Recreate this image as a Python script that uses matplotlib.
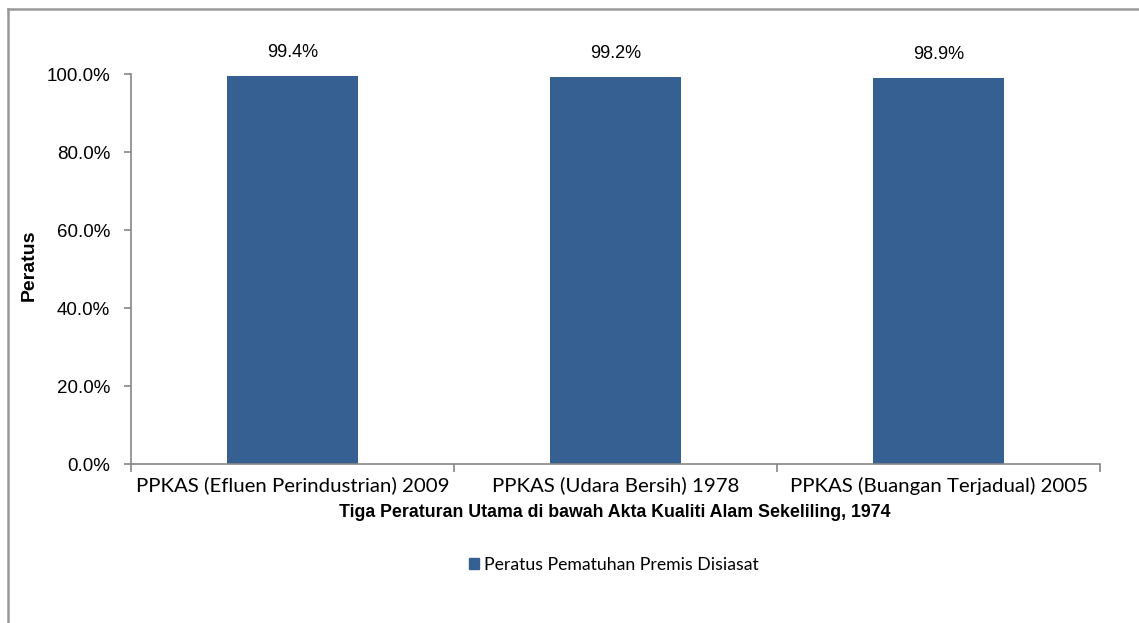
import matplotlib.pyplot as plt
from matplotlib.lines import Line2D
from matplotlib.patches import Patch

kategori = ["PPKAS (Efluen Perindustrian) 2009",
            "PPKAS (Udara Bersih) 1978",
            "PPKAS (Buangan Terjadual) 2005"]
peratus = [99.4, 99.2, 98.9]
label_nilai = ["99.4%", "99.2%", "98.9%"]
yticks = [0, 20, 40, 60, 80, 100]

biru = "#376092"
kelabu = "#868686"

fig = plt.figure(figsize=(11.39, 6.23), dpi=100)
ax = fig.add_axes([0.115, 0.2552, 0.8508, 0.626])

x = range(len(kategori))
bars = ax.bar(x, peratus, width=0.405, color=biru, zorder=2)

for b, t in zip(bars, label_nilai):
    ax.text(b.get_x() + b.get_width() / 2, b.get_height() + 4.0, t,
            ha="center", va="bottom", fontsize=13, family="Liberation Sans")

ax.set_xlim(-0.5, 2.5)
ax.set_ylim(0, 100)
ax.set_yticks(yticks)
ax.set_yticklabels([f"{v:.1f}%" for v in yticks], family="Liberation Sans", fontsize=13.5)
ax.set_xticks([0, 1, 2])
ax.set_xticklabels(kategori, family="Lato", fontsize=14.7)
ax.set_xticks([-0.5, 0.5, 1.5, 2.5], minor=True)
ax.tick_params(axis="x", which="major", length=0, pad=9)
ax.tick_params(axis="x", which="minor", length=6, color=kelabu, width=1.2)
ax.tick_params(axis="y", length=5, color=kelabu, width=1.2, pad=10)

for s in ["top", "right"]:
    ax.spines[s].set_visible(False)
for s in ["left", "bottom"]:
    ax.spines[s].set_color(kelabu)
    ax.spines[s].set_linewidth(1.2)

fig.text(0.0255, 0.575, "Peratus", rotation=90, ha="center", va="center",
         fontsize=14, fontweight="bold", family="Liberation Sans")
fig.text(0.5395, 0.178, "Tiga Peraturan Utama di bawah Akta Kualiti Alam Sekeliling, 1974",
         ha="center", va="center", fontsize=12.8, fontweight="bold",
         family="Liberation Sans")

fig.legend(handles=[Patch(color=biru, label="Peratus Pematuhan Premis Disiasat")],
           loc="center", bbox_to_anchor=(0.539, 0.093), frameon=False,
           prop={"family": "Lato", "size": 12.7}, handlelength=0.6, handleheight=0.6,
           handletextpad=0.3)

# bingkai luar
fig.add_artist(Line2D([0.0066, 1.0], [0.9856, 0.9856], color="#999999", lw=1.8))
fig.add_artist(Line2D([0.0066, 0.0066], [0.0, 0.9856], color="#999999", lw=1.8))

fig.savefig("out.png", dpi=100)
